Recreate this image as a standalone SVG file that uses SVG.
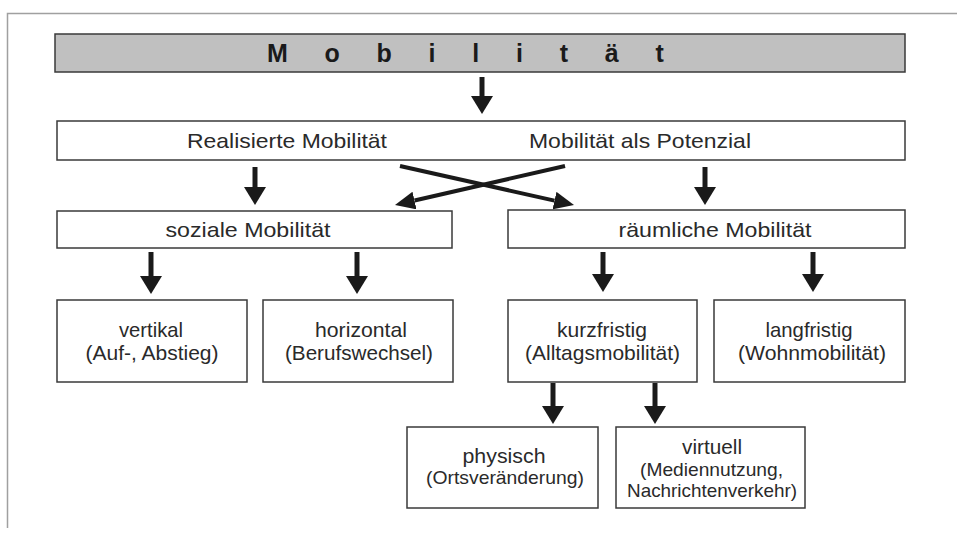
<svg xmlns="http://www.w3.org/2000/svg" width="957" height="533" viewBox="0 0 957 533">
<defs>
<marker id="ah" viewBox="0 0 18 22" refX="0" refY="11" markerWidth="18" markerHeight="22" markerUnits="userSpaceOnUse" orient="auto"><path d="M0,0 L18,11 L0,22 z" fill="#1a1a1a"/></marker>
<marker id="ah2" viewBox="0 0 20 18" refX="0" refY="9" markerWidth="20" markerHeight="18" markerUnits="userSpaceOnUse" orient="auto"><path d="M0,0 L20,9 L0,18 z" fill="#1a1a1a"/></marker>
</defs>
<style>
.box{fill:#fff;stroke:#3a3a3a;stroke-width:1.5}
.title{fill:#c0c0c0;stroke:#3a3a3a;stroke-width:1.5}
text{font-family:"Liberation Sans",Arial,sans-serif;fill:#2a2a2a;text-anchor:middle}
.t1{font-size:21px}
.t2{font-size:21px}
.t3{font-size:19px}
.arr{stroke:#1a1a1a;stroke-width:5;fill:none;marker-end:url(#ah)}
.x{stroke:#1a1a1a;stroke-width:4;fill:none;marker-end:url(#ah2)}
</style>
<g id="frame"><path d="M957,13.5 H7.5 V528" fill="none" stroke="#a0a0a0" stroke-width="1.5"/></g>
<g id="n-mobilitaet"><rect class="title" x="55" y="34" width="850" height="38"/>
<text x="267" y="62" style="text-anchor:start;font-size:25px;font-weight:bold;letter-spacing:14.9px;fill:#1a1a1a">M o b i l i t ä t</text></g>
<g id="n-realpot"><rect class="box" x="57" y="121" width="848" height="39"/>
<text class="t1" x="287" y="148" textLength="200" lengthAdjust="spacingAndGlyphs">Realisierte Mobilität</text>
<text class="t1" x="640" y="148" textLength="222" lengthAdjust="spacingAndGlyphs">Mobilität als Potenzial</text></g>
<g id="n-sozial"><rect class="box" x="57" y="211" width="395" height="37"/>
<text class="t1" x="248" y="237" textLength="165" lengthAdjust="spacingAndGlyphs">soziale Mobilität</text></g>
<g id="n-raeumlich"><rect class="box" x="508" y="210" width="397" height="38"/>
<text class="t1" x="715" y="237" textLength="193" lengthAdjust="spacingAndGlyphs">räumliche Mobilität</text></g>
<g id="n-vertikal"><rect class="box" x="57" y="300" width="190" height="82"/>
<text class="t2" x="151" y="337" textLength="64" lengthAdjust="spacingAndGlyphs">vertikal</text>
<text class="t2" x="152" y="360" textLength="133" lengthAdjust="spacingAndGlyphs">(Auf-, Abstieg)</text></g>
<g id="n-horizontal"><rect class="box" x="263" y="300" width="190" height="82"/>
<text class="t2" x="361" y="337" textLength="92" lengthAdjust="spacingAndGlyphs">horizontal</text>
<text class="t2" x="359" y="360" textLength="148" lengthAdjust="spacingAndGlyphs">(Berufswechsel)</text></g>
<g id="n-kurzfristig"><rect class="box" x="508" y="300" width="189" height="82"/>
<text class="t2" x="602" y="337" textLength="90" lengthAdjust="spacingAndGlyphs">kurzfristig</text>
<text class="t2" x="602.5" y="360" textLength="155" lengthAdjust="spacingAndGlyphs">(Alltagsmobilität)</text></g>
<g id="n-langfristig"><rect class="box" x="714" y="300" width="191" height="82"/>
<text class="t2" x="809" y="337" textLength="87" lengthAdjust="spacingAndGlyphs">langfristig</text>
<text class="t2" x="812" y="360" textLength="148" lengthAdjust="spacingAndGlyphs">(Wohnmobilität)</text></g>
<g id="n-physisch"><rect class="box" x="407" y="427" width="191" height="81"/>
<text class="t2" x="504" y="463" textLength="83" lengthAdjust="spacingAndGlyphs">physisch</text>
<text class="t3" x="505" y="484" textLength="158" lengthAdjust="spacingAndGlyphs">(Ortsveränderung)</text></g>
<g id="n-virtuell"><rect class="box" x="616" y="427" width="189" height="81"/>
<text class="t2" x="712" y="454" textLength="60" lengthAdjust="spacingAndGlyphs">virtuell</text>
<text class="t3" x="711.5" y="476" textLength="143" lengthAdjust="spacingAndGlyphs">(Mediennutzung,</text>
<text class="t3" x="712" y="497" textLength="170" lengthAdjust="spacingAndGlyphs">Nachrichtenverkehr)</text></g>
<g id="connectors">
<line class="arr" x1="482" y1="77" x2="482" y2="96"/>
<line class="arr" x1="255" y1="167" x2="255" y2="187"/>
<line class="arr" x1="705" y1="167" x2="705" y2="187"/>
<line class="x" x1="400" y1="166" x2="554.5" y2="200.6"/>
<line class="x" x1="565" y1="166" x2="414.5" y2="200.5"/>
<line class="arr" x1="151" y1="252" x2="151" y2="276"/>
<line class="arr" x1="357" y1="252" x2="357" y2="276"/>
<line class="arr" x1="603" y1="252" x2="603" y2="274"/>
<line class="arr" x1="813" y1="252" x2="813" y2="274"/>
<line class="arr" x1="553" y1="383" x2="553" y2="406"/>
<line class="arr" x1="655" y1="383" x2="655" y2="406"/>
</g>
</svg>
